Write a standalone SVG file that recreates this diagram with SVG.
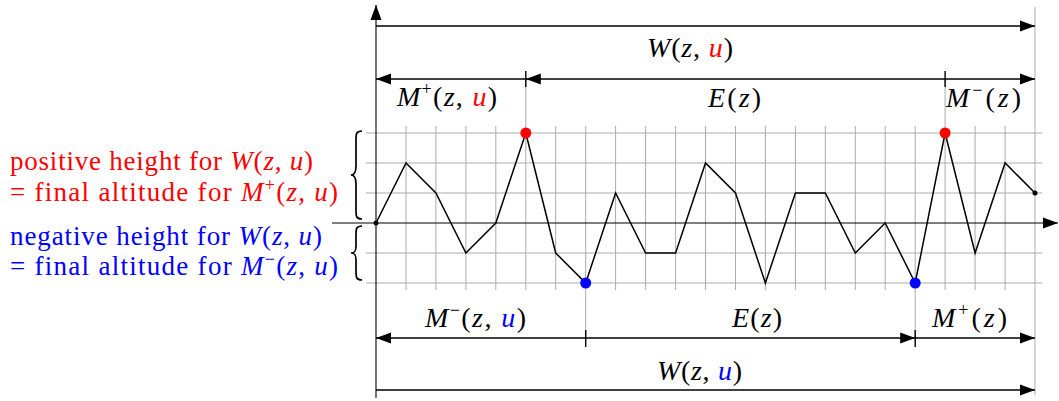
<svg xmlns="http://www.w3.org/2000/svg" width="1059" height="401" viewBox="0 0 1059 401">
<style>
  .grid{stroke:#ababab;stroke-width:1;fill:none}
  .axis{stroke:#000;stroke-width:1.1;fill:none}
  .dim{stroke:#000;stroke-width:1.7;fill:none}
  .tick{stroke:#000;stroke-width:1.4}
  .walk{stroke:#000;stroke-width:1.5;fill:none;stroke-linejoin:miter}
  .brace{stroke:#000;stroke-width:1.7;fill:none}
  text{font-family:"Liberation Serif","Times New Roman",serif;font-size:28px;fill:#000}
  .side{font-size:27px}
  .it{font-style:italic}
  .sup{font-size:18px}
  .red{fill:#ff0000}
  .blue{fill:#0000ff}
</style>
<defs>
  <marker id="ah" markerUnits="userSpaceOnUse" markerWidth="16" markerHeight="12" refX="15" refY="6" orient="auto" viewBox="0 0 16 12">
    <path d="M0,0.5 L15,6 L0,11.5 Z" fill="#000"/>
  </marker>
</defs>

<g id="grid">
  <path class="grid" d="M366,133H1042M366,163H1042M366,193H1042M366,253H1042M366,283H1042"/>
  <path class="grid" d="M406,126V290M435.9,126V290M465.9,126V290M495.8,126V290M525.8,79V290M555.7,126V290M585.7,126V338M615.6,126V290M645.6,126V290M675.6,126V290M705.5,126V290M735.5,126V290M765.4,126V290M795.4,126V290M825.3,126V290M855.3,126V290M885.2,126V290M915.2,126V338M945.1,79V290M975.1,126V290M1005.1,126V290M1035,7V395"/>
</g>

<g id="axes">
  <line class="axis" x1="332" y1="223" x2="1058" y2="223" marker-end="url(#ah)"/>
  <line class="axis" x1="376" y1="398" x2="376" y2="5" marker-end="url(#ah)"/>
</g>

<g id="walk">
  <polyline class="walk" points="376,223 406,163 435.9,193 465.9,253 495.8,223 525.8,133 555.7,253 585.7,283 615.6,193 645.6,253 675.6,253 705.5,163 735.5,193 765.4,283 795.4,193 825.3,193 855.3,253 885.2,223 915.2,283 945.1,133 975.1,253 1005.1,163 1035,193"/>
  <circle cx="376" cy="223" r="2.5" fill="#000"/>
  <circle cx="1035" cy="193" r="2.5" fill="#000"/>
</g>

<g id="dots">
  <circle id="max1" cx="525.8" cy="133" r="5.5" fill="#ff0000"/>
  <circle id="max2" cx="945.1" cy="133" r="5.5" fill="#ff0000"/>
  <circle id="min1" cx="585.7" cy="283" r="5.5" fill="#0000ff"/>
  <circle id="min2" cx="915.2" cy="283" r="5.5" fill="#0000ff"/>
</g>

<g id="connectors">
  <line class="dim" x1="376" y1="26" x2="1035" y2="26" marker-end="url(#ah)"/>
  <line class="dim" x1="525.8" y1="79" x2="376" y2="79" marker-end="url(#ah)"/>
  <line class="dim" x1="945.1" y1="79" x2="525.8" y2="79" marker-end="url(#ah)"/>
  <line class="dim" x1="945.1" y1="79" x2="1035" y2="79" marker-end="url(#ah)"/>
  <line class="dim" x1="585.7" y1="338" x2="376" y2="338" marker-end="url(#ah)"/>
  <line class="dim" x1="585.7" y1="338" x2="915.2" y2="338" marker-end="url(#ah)"/>
  <line class="dim" x1="915.2" y1="338" x2="1035" y2="338" marker-end="url(#ah)"/>
  <line class="dim" x1="376" y1="390" x2="1035" y2="390" marker-end="url(#ah)"/>
  <path class="tick" d="M525.8,71V87M945.1,71V87M585.7,330V347M915.2,330V347"/>
</g>

<g id="braces">
  <path class="brace" d="M362,131 C356,131 356,134 356,140 L356,166 C356,172 355,175 351,175 C355,175 356,178 356,184 L356,210 C356,216 356,219 362,219"/>
  <path class="brace" d="M362,226 C356,226 356,229 356,235 L356,246 C356,251 355,253 351,253 C355,253 356,255 356,260 L356,271 C356,277 356,280 362,280"/>
</g>

<g id="label-W-top">
  <text x="647" y="57" textLength="86" lengthAdjust="spacing"><tspan class="it">W</tspan>(<tspan class="it">z</tspan>, <tspan class="it red">u</tspan>)</text>
</g>
<g id="label-Mplus-top">
  <text x="397" y="106" textLength="100" lengthAdjust="spacing"><tspan class="it">M</tspan><tspan class="sup" dy="-11">+</tspan><tspan dy="11">(</tspan><tspan class="it">z</tspan>, <tspan class="it red">u</tspan>)</text>
</g>
<g id="label-E-top">
  <text x="708" y="107" textLength="53" lengthAdjust="spacing"><tspan class="it">E</tspan>(<tspan class="it">z</tspan>)</text>
</g>
<g id="label-Mminus-top">
  <text x="946" y="107" textLength="75" lengthAdjust="spacing"><tspan class="it">M</tspan><tspan class="sup" dy="-11">−</tspan><tspan dy="11">(</tspan><tspan class="it">z</tspan>)</text>
</g>
<g id="label-Mminus-bottom">
  <text x="425" y="327" textLength="101" lengthAdjust="spacing"><tspan class="it">M</tspan><tspan class="sup" dy="-11">−</tspan><tspan dy="11">(</tspan><tspan class="it">z</tspan>, <tspan class="it blue">u</tspan>)</text>
</g>
<g id="label-E-bottom">
  <text x="732" y="327" textLength="50" lengthAdjust="spacing"><tspan class="it">E</tspan>(<tspan class="it">z</tspan>)</text>
</g>
<g id="label-Mplus-bottom">
  <text x="932" y="327" textLength="75" lengthAdjust="spacing"><tspan class="it">M</tspan><tspan class="sup" dy="-11">+</tspan><tspan dy="11">(</tspan><tspan class="it">z</tspan>)</text>
</g>
<g id="label-W-bottom">
  <text x="657" y="380" textLength="85" lengthAdjust="spacing"><tspan class="it">W</tspan>(<tspan class="it">z</tspan>, <tspan class="it blue">u</tspan>)</text>
</g>

<g id="label-positive">
  <text class="side red" x="10" y="170" textLength="303" lengthAdjust="spacing">positive height for <tspan class="it">W</tspan>(<tspan class="it">z</tspan>, <tspan class="it">u</tspan>)</text>
  <text class="side red" x="10" y="201" textLength="328" lengthAdjust="spacing">= final altitude for <tspan class="it">M</tspan><tspan class="sup" dy="-10">+</tspan><tspan dy="10">(</tspan><tspan class="it">z</tspan>, <tspan class="it">u</tspan>)</text>
</g>
<g id="label-negative">
  <text class="side blue" x="10" y="245" textLength="312" lengthAdjust="spacing">negative height for <tspan class="it">W</tspan>(<tspan class="it">z</tspan>, <tspan class="it">u</tspan>)</text>
  <text class="side blue" x="10" y="275" textLength="328" lengthAdjust="spacing">= final altitude for <tspan class="it">M</tspan><tspan class="sup" dy="-10">−</tspan><tspan dy="10">(</tspan><tspan class="it">z</tspan>, <tspan class="it">u</tspan>)</text>
</g>
</svg>
